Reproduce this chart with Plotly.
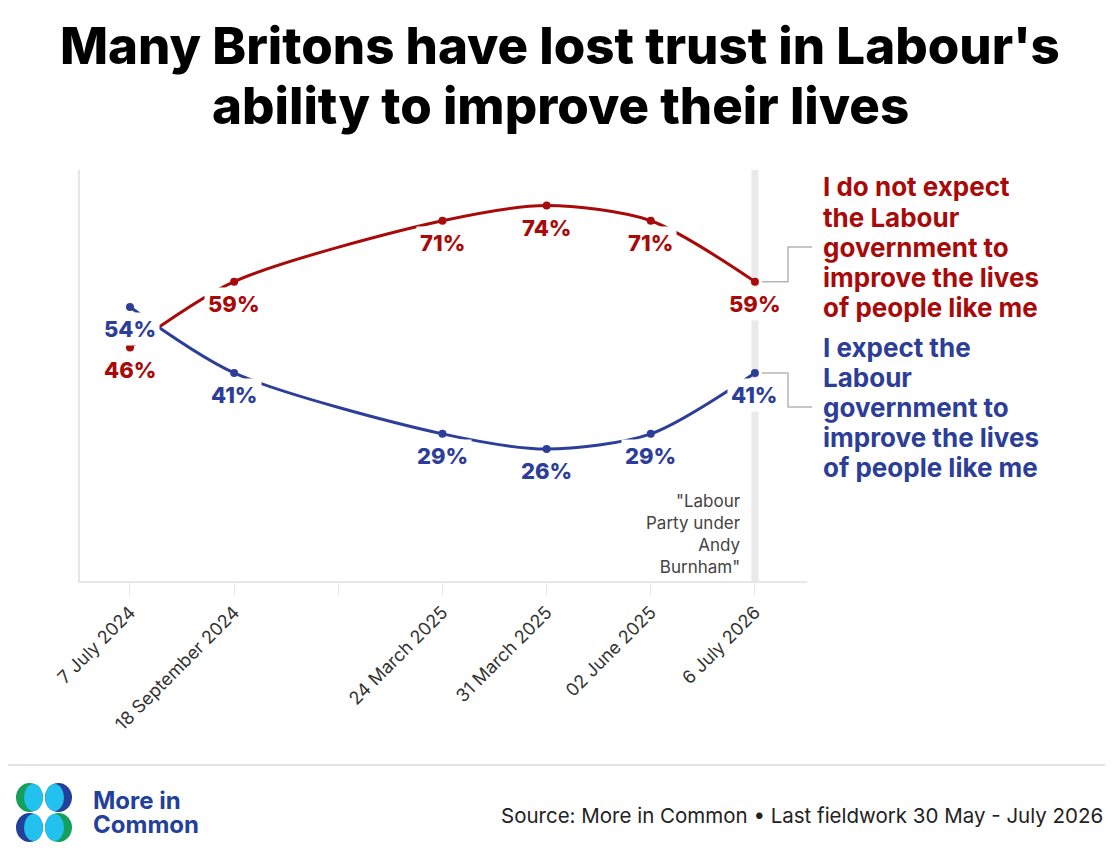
import plotly.graph_objects as go

# survey dates and shares (%)
dates = ["7 July 2024", "18 September 2024", "24 March 2025", "31 March 2025", "02 June 2025", "6 July 2026"]
not_expect = [46, 59, 71, 74, 71, 59]
expect = [54, 41, 29, 26, 29, 41]

# axis categories, with an empty slot between Sept 2024 and March 2025
categories = [dates[0], dates[1], " ", dates[2], dates[3], dates[4], dates[5]]

title_lines = ["Many Britons have lost trust in Labour's", "ability to improve their lives"]
red_label = "I do not expect<br>the Labour<br>government to<br>improve the lives<br>of people like me"
blue_label = "I expect the<br>Labour<br>government to<br>improve the lives<br>of people like me"
marker_note = '"Labour<br>Party under<br>Andy<br>Burnham"'
source = "Source: More in Common \u2022 Last fieldwork 30 May - July 2026"

# some common configs
red = "#a80a0a"
blue = "#2c3e98"
grey_line = "#e6e6e6"
font = "Inter"
y_max = 81

W, H = 1120, 865
# plot area in page pixels (the page adds an 8px body margin)
L, R, T, B = 80, 313, 170, 284
PAGE = 8


def px2x(px):
    return (px - L) / (W - L - R)


def py2y(py):
    return (H - B - py) / (H - T - B)


fig = go.Figure()

for vals, colour, name in [(not_expect, red, "Do not expect"), (expect, blue, "Expect")]:
    fig.add_trace(go.Scatter(
        x=dates,
        y=vals,
        name=name,
        mode="lines+markers",
        line=dict(color=colour, width=3, shape="spline", smoothing=0.8),
        marker=dict(color=colour, size=8),
        hoverinfo="x+y",
    ))

annotations = []
for vals, colour in [(not_expect, red), (expect, blue)]:
    for d, v in zip(dates, vals):
        annotations.append(dict(
            x=d, y=v, xref="x", yref="y",
            text="%d%%" % v,
            showarrow=False,
            yshift=-22,
            bgcolor="white",
            borderpad=3,
            font=dict(family=font, size=22, color=colour, weight=800),
        ))

# vertical marker for the last fieldwork and its note
shapes = [
    dict(type="line", xref="x", yref="paper", x0=dates[-1], x1=dates[-1], y0=0, y1=1,
         line=dict(color="#e9e9e9", width=7), layer="below"),
]
annotations.append(dict(
    x=dates[-1], y=0, xref="x", yref="paper",
    xanchor="right", yanchor="bottom", xshift=-12, yshift=2,
    text=marker_note, align="right", showarrow=False,
    font=dict(family=font, size=17, color="#444444"),
))

# right hand series labels with elbow connectors
for vals, colour, text, ly in [(not_expect, red, red_label, 247), (expect, blue, blue_label, 407)]:
    y0 = vals[-1] / y_max
    y1 = py2y(ly)
    shapes.append(dict(
        type="path", xref="paper", yref="paper",
        path="M %f %f L %f %f L %f %f L %f %f" % (
            px2x(762), y0, px2x(788), y0, px2x(788), y1, px2x(812), y1),
        line=dict(color="#b5b5b5", width=1.5),
    ))
    lines = text.split("<br>")
    for i, line in enumerate(lines):
        annotations.append(dict(
            x=px2x(821), y=py2y(ly + (i - (len(lines) - 1) / 2) * 30), xref="paper", yref="paper",
            xanchor="left", yanchor="middle", align="left",
            text=line, showarrow=False,
            font=dict(family=font, size=26, color=colour, weight="bold"),
        ))

# title, two lines
for text, py in zip(title_lines, [45, 105]):
    annotations.append(dict(
        x=px2x(W / 2), y=py2y(py), xref="paper", yref="paper",
        xanchor="center", yanchor="middle",
        text=text, showarrow=False,
        font=dict(family=font, size=51, color="black", weight=800),
    ))

# footer
shapes.append(dict(type="line", xref="paper", yref="paper",
                   x0=px2x(8), x1=px2x(1105), y0=py2y(765), y1=py2y(765),
                   line=dict(color="#e2e2e2", width=2)))

# logo: four circles with cyan overlaps
logo = [
    (16, 783, 43, 812, "#14a05a", 24, 43),
    (45, 783, 72, 812, "#23409a", 45, 64),
    (16, 813, 43, 842, "#23409a", 24, 43),
    (45, 813, 72, 842, "#14a05a", 45, 64),
]
for x0, y0, x1, y1, c, cx0, cx1 in logo:
    shapes.append(dict(type="circle", xref="paper", yref="paper",
                       x0=px2x(x0), x1=px2x(x1), y0=py2y(y1), y1=py2y(y0),
                       fillcolor=c, line=dict(width=0)))
    shapes.append(dict(type="circle", xref="paper", yref="paper",
                       x0=px2x(cx0), x1=px2x(cx1), y0=py2y(y1 - 1), y1=py2y(y0 + 1),
                       fillcolor="#22c1ee", line=dict(width=0)))

for text, py in [("More in", 800), ("Common", 824)]:
    annotations.append(dict(
        x=px2x(91), y=py2y(py), xref="paper", yref="paper",
        xanchor="left", yanchor="middle", text=text, showarrow=False,
        font=dict(family=font, size=24, color="#23409a", weight="bold"),
    ))

annotations.append(dict(
    x=px2x(1105), y=py2y(815), xref="paper", yref="paper",
    xanchor="right", yanchor="middle", text=source, showarrow=False,
    font=dict(family=font, size=20.5, color="#222222"),
))

fig.update_layout(
    width=W,
    height=H,
    margin=dict(l=L - PAGE, r=R + PAGE, t=T - PAGE, b=B + PAGE),
    plot_bgcolor="white",
    paper_bgcolor="white",
    showlegend=False,
    shapes=shapes,
    annotations=annotations,
    xaxis=dict(
        type="category",
        categoryorder="array",
        categoryarray=categories,
        range=[-0.48, 6.5],
        automargin=False,
        showline=True,
        linecolor=grey_line,
        linewidth=1.5,
        ticks="outside",
        ticklen=12,
        tickcolor=grey_line,
        tickangle=-45,
        tickfont=dict(family=font, size=18, color="#333333"),
        showgrid=False,
        fixedrange=True,
    ),
    yaxis=dict(
        range=[0, y_max],
        automargin=False,
        showline=True,
        linecolor=grey_line,
        linewidth=1.5,
        showticklabels=False,
        ticks="",
        showgrid=False,
        zeroline=False,
        fixedrange=True,
    ),
)

fig.write_html("out.html")
